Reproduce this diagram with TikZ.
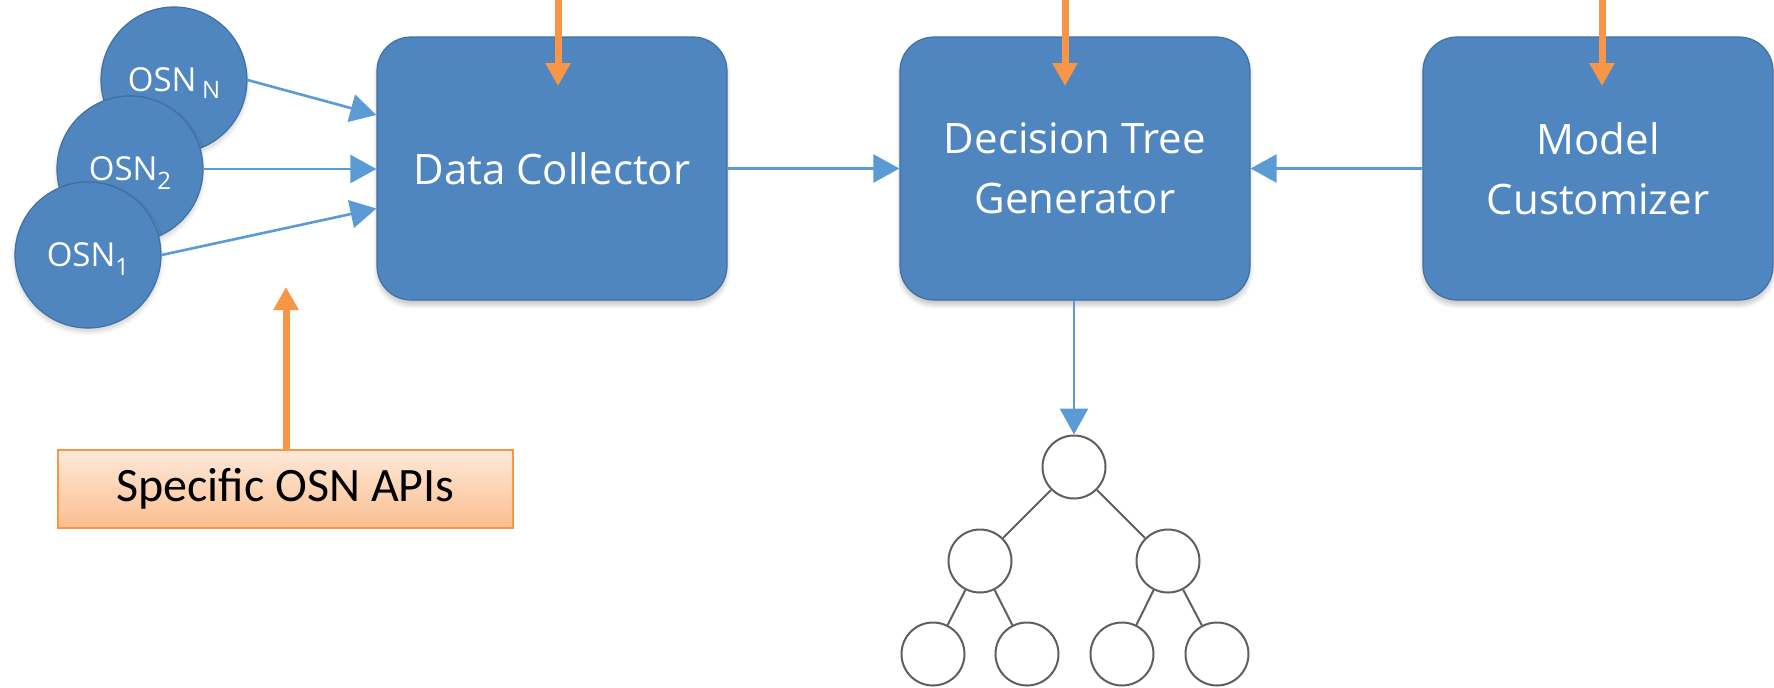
\documentclass[tikz,border=0pt]{standalone}
\usepackage{fontspec}
\setmainfont{Open Sans}
\newfontfamily\apifont{Carlito}
\usetikzlibrary{arrows.meta,calc,shadows.blur}

\definecolor{boxblue}{RGB}{79,134,191}
\definecolor{boxedge}{RGB}{65,113,160}
\definecolor{flowblue}{RGB}{91,155,213}
\definecolor{apiorange}{RGB}{247,150,70}
\definecolor{apitop}{RGB}{253,233,217}
\definecolor{apibottom}{RGB}{251,190,143}
\definecolor{treegray}{RGB}{95,95,95}

% lowered index that does not change the height of the label
\newcommand\osnsub[2][-4.5pt]{\raisebox{#1}[0pt][0pt]{\fontsize{12}{12}\selectfont #2}}

\tikzset{
  module/.style={draw=boxedge, line width=0.6pt, fill=boxblue, rounded corners=17pt,
    minimum width=175pt, minimum height=131.5pt, text=white, align=center,
    font=\fontsize{21}{30}\selectfont,
    blur shadow={shadow xshift=0pt, shadow yshift=-2.5pt, shadow blur steps=6, shadow opacity=22}},
  osn/.style={circle, draw=boxedge, line width=0.6pt, fill=boxblue, minimum size=73pt,
    inner sep=0pt, text=white, font=\fontsize{16.5}{16.5}\selectfont,
    blur shadow={shadow xshift=0pt, shadow yshift=-2pt, shadow blur steps=5, shadow opacity=18}},
  flow/.style={draw=flowblue, line width=1.3pt, -{Triangle[length=13pt,width=14pt]}},
  feed/.style={draw=apiorange, line width=3.5pt, -{Triangle[length=11.5pt,width=12pt]}},
  apibox/.style={draw=apiorange, line width=1pt, top color=apitop, bottom color=apibottom,
    minimum width=227.5pt, minimum height=39pt, inner sep=0pt,
    font=\apifont\fontsize{24}{24}\selectfont},
  tnode/.style={circle, draw=treegray, line width=1pt, fill=white, minimum size=31.5pt, inner sep=0pt},
  tedge/.style={draw=treegray, line width=1pt}
}

\begin{document}
\begin{tikzpicture}[x=0.5pt, y=-0.5pt]
\useasboundingbox (0,0) rectangle (1774,687);

% processing modules
\node[module] (dc) at (552,168.5) {Data Collector};
\node[module] (dt) at (1075,168.5) {Decision Tree\\Generator};
\node[module] (mc) at (1598,168.5) {Model\\Customizer};

% social network sources, stacked back to front
\node[osn] (osnN) at (174,80) {OSN\,\osnsub[-3.5pt]{N}};
\node[osn] (osn2) at (130,169) {OSN\osnsub{2}};
\node[osn] (osn1) at (88,255) {OSN\osnsub{1}};

% source connectors
\draw[flow] (osnN.east) -- ($(dc.west)+(0,-53.5)$);
\draw[flow] (osn2.east) -- (osn2.east -| dc.west);
\draw[flow] (osn1.east) -- ($(dc.west)+(0,40)$);

% module connectors
\draw[flow] (dc.east) -- (dt.west);
\draw[flow] (mc.west) -- (dt.east);

% resulting decision tree
\node[tnode] (root) at (1074,467) {};
\node[tnode] (l) at (980,561) {};
\node[tnode] (r) at (1168,561) {};
\node[tnode] (ll) at (933,654) {};
\node[tnode] (lr) at (1027,654) {};
\node[tnode] (rl) at (1122,654) {};
\node[tnode] (rr) at (1217,654) {};
\draw[tedge] (root) -- (l);
\draw[tedge] (root) -- (r);
\draw[tedge] (l) -- (ll);
\draw[tedge] (l) -- (lr);
\draw[tedge] (r) -- (rl);
\draw[tedge] (r) -- (rr);
\draw[flow] (dt.south -| root) -- (root.north);

% external inputs
\coordinate (inDC) at (558,0);
\coordinate (inDT) at (1065,0);
\coordinate (inMC) at (1602,0);
\coordinate (tipDC) at (558,86);
\coordinate (tipDT) at (1065,86);
\coordinate (tipMC) at (1602,86);
\draw[feed] (inDC) -- (tipDC);
\draw[feed] (inDT) -- (tipDT);
\draw[feed] (inMC) -- (tipMC);

\node[apibox] (api) at (285.5,489) {Specific OSN APIs};
\coordinate (tipAPI) at (286,287);
\draw[feed] (api.north -| tipAPI) -- (tipAPI);
\end{tikzpicture}
\end{document}
